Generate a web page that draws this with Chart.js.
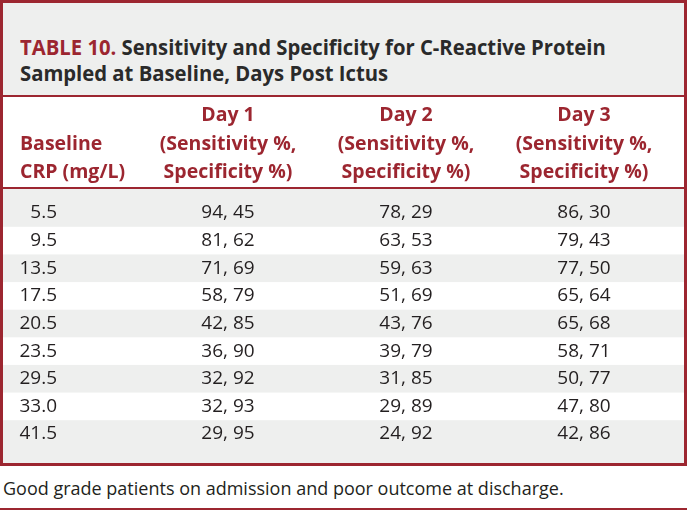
<!DOCTYPE html>
<html>
<head>
<meta charset="utf-8">
<script src="https://cdn.jsdelivr.net/npm/chart.js@4"></script>
<style>
  body { margin: 0; width: 687px; height: 511px; background: #fff; position: relative; overflow: hidden; font-family: "Open Sans", sans-serif; }
  #box { position: absolute; left: 0; top: 0; width: 687px; height: 466px; box-sizing: border-box; border: 3px solid #9c2630; }
  #title { position: absolute; left: 0; top: 0; width: 681px; height: 94px; box-sizing: border-box; background: #eeefee;
           border-bottom: 2px solid #9c2630; padding: 31px 0 0 17px; font-family: "Open Sans", sans-serif;
           font-weight: bold; font-size: 21px; line-height: 26px; color: #2a2a2a; }
  #title .ln { display: inline-block; white-space: nowrap; transform: scaleX(0.965); transform-origin: left center; }
  #title .lab { color: #9c2630; }
  #wrap { position: absolute; left: 0; top: 94px; width: 681px; height: 366px; }
  #note { position: absolute; left: 3px; top: 477px; font-size: 18px; line-height: 22px; color: #231f20; }
  #rule { position: absolute; left: 0; top: 508px; width: 687px; height: 2px; background: #9c2630; }
</style>
</head>
<body>
<div id="box">
  <div id="title"><span class="ln"><span class="lab">TABLE 10.</span> Sensitivity and Specificity for C-Reactive Protein</span><br><span class="ln">Sampled at Baseline, Days Post Ictus</span></div>
  <div id="wrap"><canvas id="tbl" width="681" height="366"></canvas></div>
</div>
<div id="note">Good grade patients on admission and poor outcome at discharge.</div>
<div id="rule"></div>
<script>
const columns = ['crp', 'day1', 'day2', 'day3'];
const columnHeads = [
  ['', 'Baseline', 'CRP (mg/L)'],
  ['Day 1', '(Sensitivity %,', 'Specificity %)'],
  ['Day 2', '(Sensitivity %,', 'Specificity %)'],
  ['Day 3', '(Sensitivity %,', 'Specificity %)']
];
const crpLevels = ['5.5', '9.5', '13.5', '17.5', '20.5', '23.5', '29.5', '33.0', '41.5'];
const day1Sens = [94, 81, 71, 58, 42, 36, 32, 32, 29];
const day1Spec = [45, 62, 69, 79, 85, 90, 92, 93, 95];
const day2Sens = [78, 63, 59, 51, 43, 39, 31, 29, 24];
const day2Spec = [29, 53, 63, 69, 76, 79, 85, 89, 92];
const day3Sens = [86, 79, 77, 65, 65, 58, 50, 47, 42];
const day3Spec = [30, 43, 50, 64, 68, 71, 77, 80, 86];

const RED = '#9c2630';
const INK = '#231f20';
const BAND = '#eeefee';

function cellSet(col, texts) {
  return {
    label: col,
    data: crpLevels.map((c, i) => ({ x: col, y: c, text: texts[i] })),
    pointRadius: 0,
    pointHoverRadius: 0
  };
}

const tablePlugin = {
  id: 'tablePlugin',
  beforeDatasetsDraw(chart) {
    const { ctx, scales: { x, y }, width, height } = chart;
    const step = y.getPixelForValue(1) - y.getPixelForValue(0);
    const rule = y.getPixelForValue(0) - 26;
    ctx.save();
    ctx.fillStyle = BAND;
    crpLevels.forEach((c, i) => {
      if (i % 2) return;
      const top = i === 0 ? rule + 2 : y.getPixelForValue(i) - step / 2;
      const bot = i === crpLevels.length - 1 ? height : y.getPixelForValue(i) + step / 2;
      ctx.fillRect(0, top, width, bot - top);
    });
    ctx.fillStyle = RED;
    ctx.fillRect(0, rule, width, 2);
    // header
    ctx.font = 'bold 19.5px "Open Sans"';
    ctx.textBaseline = 'middle';
    const lineY = [rule - 72, rule - 43, rule - 15];
    columnHeads.forEach((lines, ci) => {
      const px = x.getPixelForValue(ci);
      lines.forEach((t, li) => {
        if (!t) return;
        if (ci === 0) { ctx.textAlign = 'left'; ctx.fillText(t, px - 30, lineY[li]); }
        else { ctx.textAlign = 'center'; ctx.fillText(t, px, lineY[li]); }
      });
    });
    ctx.restore();
  },
  afterDatasetsDraw(chart) {
    const { ctx } = chart;
    ctx.save();
    ctx.font = '19px "Open Sans"';
    ctx.fillStyle = INK;
    ctx.textBaseline = 'middle';
    chart.data.datasets.forEach((ds, di) => {
      const meta = chart.getDatasetMeta(di);
      meta.data.forEach((el, i) => {
        if (di === 0) { ctx.textAlign = 'right'; ctx.fillText(ds.data[i].text, el.x + 7, el.y); }
        else { ctx.textAlign = 'center'; ctx.fillText(ds.data[i].text, el.x, el.y); }
      });
    });
    ctx.restore();
  }
};

new Chart(document.getElementById('tbl'), {
  type: 'scatter',
  data: {
    datasets: [
      cellSet('crp', crpLevels),
      cellSet('day1', day1Sens.map((s, i) => s + ', ' + day1Spec[i])),
      cellSet('day2', day2Sens.map((s, i) => s + ', ' + day2Spec[i])),
      cellSet('day3', day3Sens.map((s, i) => s + ', ' + day3Spec[i]))
    ]
  },
  options: {
    responsive: false,
    animation: false,
    events: [],
    layout: { padding: { left: 47, right: 100, top: 116, bottom: 29 } },
    plugins: { legend: { display: false }, tooltip: { enabled: false } },
    scales: {
      x: { type: 'category', labels: columns, offset: false, display: false },
      y: { type: 'category', labels: crpLevels, offset: false, display: false }
    }
  },
  plugins: [tablePlugin]
});
</script>
</body>
</html>
